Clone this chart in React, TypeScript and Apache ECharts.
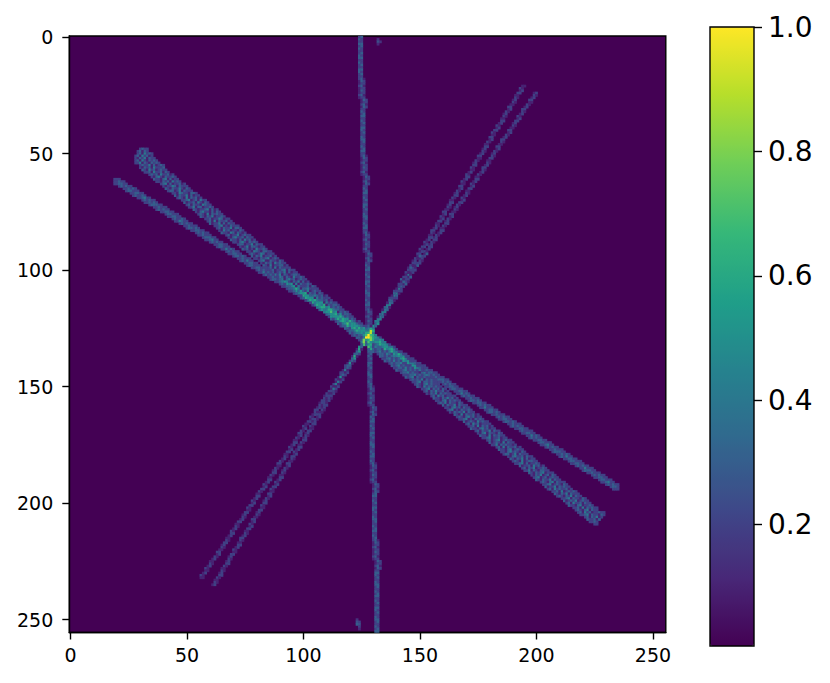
import React, { useEffect, useRef } from "react";
import * as echarts from "echarts";

const SIZE = 256;
const X_TICKS = [0, 50, 100, 150, 200, 250];
const Y_TICKS = [0, 50, 100, 150, 200, 250];
const BAR_TICKS = [0.2, 0.4, 0.6, 0.8, 1.0];
const BAR_MIN = 0.005;
const BAR_MAX = 1;
const VIRIDIS = ["#440154", "#482878", "#3e4989", "#31688e", "#26828e", "#1f9e89", "#35b779", "#6ece58", "#b5de2b", "#fde725"];

// Each token is one image row: "startColumn:cells" (or only cells, keeping the previous column).
// A cell digit d means an intensity of about d / 10.
const WIDE_FIRST_ROW = 48;
const WIDE_ROWS = `
30:2322 29:23132 29:2314232 28:23142312 28:213241322 28:2314213232 28:22413213232 30:23224131232
30:21323142223 31:32142312322 32:22314223132 34:23231422312 35:21342132232 36:32213413122 37:22132314232 39:23413122312
40:21224313222 41:32132242132 42:23312413222 44:22143221332 45:31322413122 46:23214132312 48:22341231422 49:31223142132
50:23132214322 51:22413312232 53:32122341312 54:21342213132 55:23214132322 56:32132412232 58:22312243122 59:23141322312
60:31224131322 62:22341213222 63:23132241332 64:21423122132 65:32214313212 67:23122412322 68:21342231322 69:32213142312
70:22134213232 72:23312241322 73:21241332122 74:32312142232 76:22143213322 77:23212431222 78:31324122312 79:22132341232
81:23411322132 82:21323142322 83:32141223312 84:22314132222 86:23122341322 87:31232413122 88:22413212332 90:23132142232
91:21342312322 92:32213241312 93:22314132232 95:23142223132 96:23213342222 97:31332412322 98:22341323132 100:23213432312
101:32331423222 102:23142332312 104:32233142322 105:23324132332 106:22341323232 107:33213423322 109:23342313232 110:32234132332
111:23323422322 112:32242333232 114:23333242312 115:32234233322 116:23342323232 118:33233242322 119:23324233232 120:32342323322
121:23233342232 123:33242332322 124:23323342232 125:32243233322 126:23332324232 128:32243323322 129:23233242332 130:32342322322
132:23324323232 133:33232342322 134:22342323332 135:32324232322 137:23233422322 138:32342322232 139:22332423232 140:32234232322
142:23342322132 143:22233423232 144:32341322322 146:23232413232 147:22341332322 148:23213423222 149:32142332322 151:22341323132
152:23132422312 153:21324132322 155:23142312222 156:32213242312 157:22134132322 158:23241322132 160:31322413222 161:22134231322
162:23412132232 163:21323241322 165:32141322312 166:23213423122 167:22341213232 169:31232142322 170:23142312222 171:22314132312
172:32213423122 174:23132241322 175:21341322132 176:32214132322 177:22341223122 179:23123412322 180:31232141322 181:22413232212
183:23141322312 184:32213412322 185:22134232132 186:23312413222 188:21342231322 189:32132413122 190:23214123322 191:22341312232
193:31223142312 194:23132412232 195:22413213322 197:32132341222 198:21324123132 199:23412312322 200:32132241322 202:23213413222
203:22341232132 204:31224132322 205:23142322312 207:22314123232 208:32132413222 209:23213241322 211:22341322132 212:31232412322
213:23142231322 214:32213412232 216:22314132322 217:2321341322 218:231423122322 219:22341322132 221:23132412 222:322313 223:2232 225:22
`;

const NARROW_FIRST_ROW = 61;
const NARROW_ROWS = `
19:222 19:22322 19:223322 21:232322 23:223232 24:233222 26:223322 27:232232 29:223422 31:232322 32:223232 34:233322
36:223222 37:232322 39:223322 41:233222 42:223322 44:232232 45:224322 47:232322 49:223222 50:233232 52:223322 54:232322
55:223222 57:233322 58:223422 60:232322 62:223322 63:233222 65:224232 67:232322 68:223322 70:233232 72:223222 73:232422
75:223322 76:233222 78:223322 80:232322 81:224232 83:232322 85:223222 86:233232 88:223422 90:232322 91:223322 93:233232
94:223222 96:232322 98:224232 99:233322 101:223422 103:232322 104:223222 106:233232 108:223322 109:222322 111:232222
112:223222 114:222322 116:232222 117:223222 119:222322 121:232222 122:223222 124:222322 126:222222 127:222222 129:222222
130:222322 132:223222 134:222222 135:222322 137:232222 139:223222 140:222322 142:232222 143:223222 145:222322 147:232222
148:223222 150:222322 152:223322 153:232322 155:223222 157:233322 158:223232 160:232322 161:223322 163:233222 165:223322
166:224232 168:232322 170:223222 171:233232 173:223322 175:232322 176:224222 178:223322 179:233232 181:223222 183:232322
184:223322 186:233232 188:223222 189:232322 191:223322 193:232222 194:223322 196:224232 197:232322 199:223322 201:233222
202:223422 204:232322 206:223222 207:233322 209:223232 210:232422 212:223322 214:233222 215:223322 217:232322 219:224222
220:233322 222:223222 224:232322 225:223322 227:233222 228:223422 230:232322 232:2332 233:222
`;

const THIN_A_FIRST_ROW = 24;
const THIN_A_ROWS = `
199:12 199:21 198:12 197:22 197:11 196:21 195:12 194:22 194:21 193:12 192:21 192:12 191:22 190:12 190:21 189:11 188:22 188:12 187:21 186:12
185:22 185:21 184:11 183:22 183:12 182:21 181:12 181:21 180:22 179:11 179:21 178:12 177:22 177:21 176:12 175:21 174:11 174:22 173:12 172:21
172:12 171:22 170:11 170:21 169:12 168:21 168:12 167:22 166:21 165:12 165:21 164:11 163:22 163:12 162:21 161:12 161:22 160:21 159:11 159:22
158:12 157:21 156:12 156:22 155:21 154:12 154:22 153:12 152:21 152:13 151:22 150:12 150:21 149:22 148:13 147:21 147:22 146:12 145:21 145:13
144:22 144:21 143:13 142:22 141:12 141:22 140:31 139:13 139:22 138:21 137:13 136:22 136:31 135:13 134:22 134:31 133:13 132:22 131:13 131:22
130:31 129:13 129:31 128:22 127:13 127:22 126:31 125:13 125:22 124:31 123:13 123:22 122:31 121:13 121:22 120:21 119:13 118:22 118:21 117:12
116:22 116:21 115:13 114:21 114:12 113:22 112:21 112:12 111:22 110:21 109:12 109:21 108:22 107:12 107:21 106:12 105:22 105:21 104:12 103:21
103:12 102:22 101:11 100:21 100:12 99:21 98:22 98:12 97:21 96:11 96:22 95:12 94:21 94:12 93:22 92:11 92:21 91:12 90:21 89:22 89:11 88:21
87:12 87:22 86:21 85:11 85:22 84:12 83:21 83:12 82:22 81:21 80:11 80:22 79:12 78:21 78:12 77:22 76:21 76:11 75:22 74:12 74:21 73:12 72:22
71:11 71:21 70:12 69:21 69:22 68:12 67:11 67:21 66:22 65:12 65:21 64:11 63:22 63:12 62:21 61:12 60:11 60:21 59:12 58:21 58:11 57:12 56:21 56:11
`;

const THIN_B_FIRST_ROW = 21;
const THIN_B_ROWS = `
194:11 193:21 193:12 192:22 191:11 191:21 190:12 190:21 189:11 188:22 188:12 187:21 186:12 186:21 185:11 185:22 184:12 183:21 183:12 182:22
181:21 181:11 180:22 180:12 179:21 178:11 178:22 177:12 177:21 176:12 175:22 175:11 174:21 173:12 173:22 172:21 172:11 171:12 170:21 170:22
169:12 168:21 168:11 167:22 167:12 166:21 165:12 165:22 164:21 163:11 163:22 162:12 162:21 161:11 160:22 160:12 159:21 159:12 158:22 157:11
157:21 156:12 155:22 155:21 154:11 154:22 153:12 152:21 152:12 151:22 150:21 150:12 149:22 149:13 148:21 147:12 147:22 146:21 145:13 145:22
144:21 144:12 143:22 142:31 142:13 141:22 141:21 140:13 139:22 139:31 138:13 137:22 137:31 136:13 136:22 135:31 134:13 134:22 133:31 132:13
132:22 131:31 131:13 130:22 129:31 129:13 128:22 127:31 127:13 126:22 126:31 125:13 124:22 124:31 123:13 123:22 122:31 121:13 121:22 120:21
119:13 119:22 118:21 118:12 117:22 116:21 116:12 115:22 114:21 114:12 113:22 113:21 112:12 111:22 111:21 110:12 109:21 109:22 108:12 108:21
107:11 106:22 106:12 105:21 104:12 104:22 103:21 103:11 102:22 101:12 101:21 100:12 100:22 99:21 98:11 98:22 97:12 96:21 96:12 95:22 95:21
94:11 93:22 93:12 92:21 91:12 91:21 90:11 90:22 89:12 88:21 88:12 87:22 86:21 86:11 85:22 85:12 84:21 83:12 83:22 82:21 82:11 81:22 80:12
80:21 79:11 78:22 78:12 77:21 77:12 76:22 75:11 75:21 74:12 73:22 73:21 72:11 72:22 71:12 70:21 70:11 69:22 68:12 68:21 67:12 67:22 66:21 65:11
65:21 64:12 64:22 63:21 62:11 62:21 61:12
`;

const VERTICAL_FIRST_ROW = 0;
const VERTICAL_ROWS = `
124:23 32 22 33 23 32 22 23 32 33 22 32 23 22 33 32 23 22 231 132 122 231 122 132 122 231 122
125:132 122 231 132 22 32 23 33 22 32 23 22 33 32 23 22 32 33 23 22 32 23 33 22 231 132 122 231 122 132 122 231 122
126:132 122 231 132 22 32 23 33 22 32 23 22 33 32 23 22 32 33 23 22 32 23 33 22 231 132 122 231 122 132 122 231 122
127:132 122 231 132 22 32 23 33 22 32 23 22 33 32 23 22 32 33 23 22 32 23 33 22 231 132 122 231 122 132 122 231 122
128:132 122 231 132 33 32 23 43 34 33 23 32 23 22 33 32 23 22 32 33 23 22 32 23 231 132 122 231 122 132 122 231 122
129:132 122 231 132 32 23 33 22 32 23 22 33 32 23 22 32 33 23 22 32 23 33 22 32 231 132 122 231 122 132 122 231 122
130:132 122 231 132 23 33 22 32 23 22 33 32 23 22 32 33 23 22 32 23 33 22 32 23 231 132 122 231 122 132 122 231 122
131:132 122 231 132 22 33 32 23 22 32 33 23 22 32 23 33 22 32 23 22 33 32 23 22 32 33 23 22 32 23 33
`;

// Small marks beside the vertical line and the bright spot at the crossing: [row, column, value].
const EXTRA_CELLS: [number, number, number][] = [
  [1, 132, 0.15], [2, 132, 0.25], [2, 133, 0.15], [3, 132, 0.12],
  [250, 123, 0.15], [251, 123, 0.25], [251, 124, 0.2], [252, 123, 0.3], [252, 124, 0.25], [253, 124, 0.2], [254, 124, 0.12],
];
const PEAK_CELLS: [number, number, number][] = [
  [129, 127, 1.0], [128, 128, 1.0], [127, 129, 0.9], [128, 127, 0.7], [127, 128, 0.65],
];

function addRows(cells: Map<string, number>, firstRow: number, text: string) {
  let col = 0;
  text.trim().split(/\s+/).forEach((token, i) => {
    const parts = token.split(":");
    if (parts.length === 2) col = Number(parts[0]);
    const digits = parts[parts.length - 1];
    for (let k = 0; k < digits.length; k++) {
      const v = Number(digits[k]) / 10;
      if (v > 0) {
        const key = `${col + k},${firstRow + i}`;
        cells.set(key, (cells.get(key) || 0) + v);
      }
    }
  });
}

function buildCells(): [number, number, number][] {
  const cells = new Map<string, number>();
  addRows(cells, WIDE_FIRST_ROW, WIDE_ROWS);
  addRows(cells, NARROW_FIRST_ROW, NARROW_ROWS);
  addRows(cells, THIN_A_FIRST_ROW, THIN_A_ROWS);
  addRows(cells, THIN_B_FIRST_ROW, THIN_B_ROWS);
  addRows(cells, VERTICAL_FIRST_ROW, VERTICAL_ROWS);
  EXTRA_CELLS.forEach(([r, c, v]) => cells.set(`${c},${r}`, v));
  PEAK_CELLS.forEach(([r, c, v]) => cells.set(`${c},${r}`, v));
  const out: [number, number, number][] = [];
  cells.forEach((v, key) => {
    const [c, r] = key.split(",").map(Number);
    out.push([c, r, Math.min(1, v)]);
  });
  return out;
}

export default function App() {
  const ref = useRef<HTMLDivElement>(null);
  useEffect(() => {
    const chart = echarts.init(ref.current!, undefined, { renderer: "svg" });
    const categories = Array.from({ length: SIZE }, (_, i) => String(i));
    const font = "DejaVu Sans";
    const line = { color: "#000", width: 1.4 };
    chart.setOption({
      animation: false,
      backgroundColor: "#fff",
      grid: [
        { left: 69.3, top: 36, width: 596.5, height: 596.5, show: true, backgroundColor: "#440154", borderColor: "#000", borderWidth: 1.4 },
        { left: 710, top: 27, width: 44, height: 619, show: true, backgroundColor: "transparent", borderColor: "#000", borderWidth: 1.4, z: 6 },
      ],
      xAxis: [
        {
          type: "category", gridIndex: 0, data: categories, position: "bottom",
          axisLine: { show: true, lineStyle: line },
          axisTick: { show: true, alignWithLabel: true, length: 7, lineStyle: line, interval: (i: number) => X_TICKS.includes(i) },
          axisLabel: { show: true, interval: (i: number) => X_TICKS.includes(i), fontFamily: font, fontSize: 19, color: "#000", margin: 13 },
          splitLine: { show: false }, splitArea: { show: false },
        },
        { type: "value", gridIndex: 1, show: false, min: 0, max: 1 },
      ],
      yAxis: [
        {
          type: "category", gridIndex: 0, data: categories, inverse: true, position: "left",
          axisLine: { show: true, lineStyle: line },
          axisTick: { show: true, alignWithLabel: true, length: 7, lineStyle: line, interval: (i: number) => Y_TICKS.includes(i) },
          axisLabel: { show: true, interval: (i: number) => Y_TICKS.includes(i), fontFamily: font, fontSize: 19, color: "#000", margin: 16 },
          splitLine: { show: false }, splitArea: { show: false },
        },
        {
          type: "value", gridIndex: 1, position: "right", min: BAR_MIN, max: BAR_MAX, z: 6,
          axisLine: { show: false, onZero: false },
          axisTick: { show: true, length: 8, lineStyle: line, customValues: BAR_TICKS },
          axisLabel: { show: true, customValues: BAR_TICKS, formatter: (v: number) => v.toFixed(1), fontFamily: font, fontSize: 28, color: "#000", margin: 14 },
          splitLine: { show: false },
        },
      ],
      visualMap: {
        type: "continuous", min: BAR_MIN, max: BAR_MAX, seriesIndex: 0, calculable: false, realtime: false,
        left: 710, top: 27, itemWidth: 44, itemHeight: 619, padding: 0, z: 1, hoverLink: false,
        inRange: { color: VIRIDIS },
        textStyle: { fontSize: 0 },
      },
      series: [
        {
          type: "heatmap", xAxisIndex: 0, yAxisIndex: 0, data: buildCells(), silent: true, progressive: 0,
          itemStyle: { borderWidth: 0 }, emphasis: { disabled: true },
        },
      ],
    });
    return () => chart.dispose();
  }, []);
  return <div ref={ref} style={{ position: "absolute", left: 0, top: 0, width: 830, height: 683 }} />;
}
